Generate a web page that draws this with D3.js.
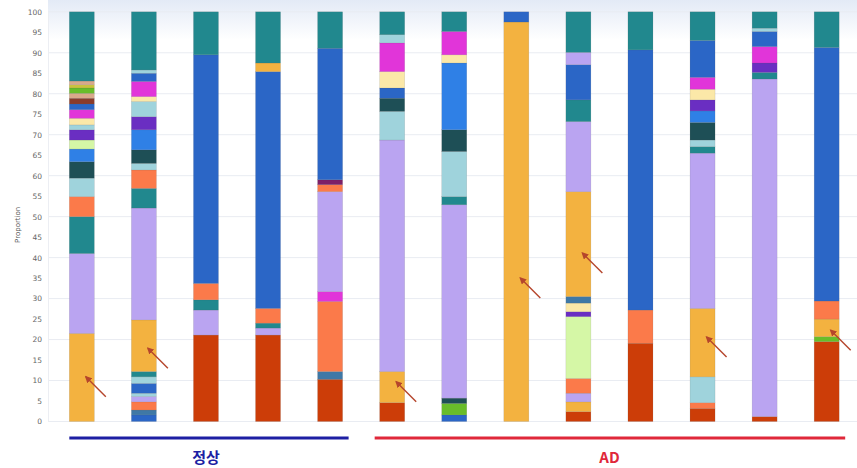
<!DOCTYPE html>
<html><head><meta charset="utf-8">
<script src="https://cdn.jsdelivr.net/npm/d3@7"></script>
<style>html,body{margin:0;padding:0;background:#fff;}svg{display:block;}</style>
</head><body>
<svg id="c" width="857" height="468"></svg>
<script>
// ---- data ----
const samples = ["N1","N2","N3","N4","N5","AD1","AD2","AD3","AD4","AD5","AD6","AD7","AD8"];
const groups = [{name:"정상", members:["N1","N2","N3","N4","N5"]},{name:"AD", members:["AD1","AD2","AD3","AD4","AD5","AD6","AD7","AD8"]}];
const yTicks = [0,5,10,15,20,25,30,35,40,45,50,55,60,65,70,75,80,85,90,95,100];
const taxa = ["teal","lavender","orange","darkred","coral","blue","brightblue","lightcyan","darkteal","purple","magenta","paleyellow","lightgreen","green","brown","slate","tan","olive","plum"];
// composition of each sample, bottom to top: [taxon, proportion %]
const compN1 = [["orange",21.5],["lavender",19.5],["teal",9.0],["coral",4.9],["lightcyan",4.5],["darkteal",4.0],["brightblue",3.1],["lightgreen",2.2],["purple",2.5],["lightcyan",1.2],["paleyellow",1.6],["magenta",2.1],["blue",1.4],["brown",1.4],["tan",1.2],["green",1.3],["olive",0.8],["tan",0.9],["teal",16.9]];
const compN2 = [["blue",1.6],["slate",1.2],["coral",2.0],["lavender",1.3],["lightcyan",0.8],["blue",2.4],["lightcyan",1.6],["teal",1.3],["orange",12.6],["lavender",27.3],["teal",4.8],["coral",4.5],["lightcyan",1.6],["darkteal",3.3],["brightblue",4.9],["purple",3.2],["lightcyan",3.7],["paleyellow",1.2],["magenta",3.7],["blue",2.0],["lightcyan",0.8],["teal",14.2]];
const compN3 = [["darkred",21.1],["lavender",6.1],["teal",2.5],["coral",4.0],["blue",55.8],["teal",10.5]];
const compN4 = [["darkred",21.1],["lavender",1.7],["teal",1.2],["coral",3.6],["blue",57.8],["orange",2.1],["teal",12.5]];
const compN5 = [["darkred",10.3],["slate",1.9],["coral",17.1],["magenta",2.4],["lavender",24.4],["coral",1.7],["plum",1.2],["blue",32.1],["teal",8.9]];
const compAD1 = [["darkred",4.6],["orange",7.6],["lavender",56.5],["lightcyan",7.0],["darkteal",3.2],["blue",2.5],["paleyellow",4.0],["magenta",7.0],["lightcyan",2.0],["teal",5.6]];
const compAD2 = [["blue",1.6],["green",2.8],["darkteal",1.3],["lavender",47.2],["teal",2.0],["lightcyan",11.0],["darkteal",5.3],["brightblue",16.3],["paleyellow",2.0],["magenta",5.7],["teal",4.8]];
const compAD3 = [["orange",97.5],["blue",2.5]];
const compAD4 = [["darkred",2.4],["orange",2.4],["lavender",2.1],["coral",3.6],["lightgreen",15.1],["purple",1.2],["paleyellow",2.1],["slate",1.6],["orange",25.6],["lavender",17.1],["teal",5.3],["blue",8.6],["lavender",3.0],["teal",9.9]];
const compAD5 = [["darkred",19.1],["coral",8.1],["blue",63.5],["teal",9.3]];
const compAD6 = [["darkred",3.2],["coral",1.4],["lightcyan",6.3],["orange",16.7],["lavender",37.9],["teal",1.6],["lightcyan",1.6],["darkteal",4.3],["brightblue",2.8],["purple",2.7],["paleyellow",2.6],["magenta",2.9],["blue",9.0],["teal",7.0]];
const compAD7 = [["darkred",1.2],["lavender",82.4],["teal",1.6],["purple",2.3],["magenta",4.0],["blue",3.7],["lightcyan",0.8],["teal",4.0]];
const compAD8 = [["darkred",19.5],["green",1.2],["orange",4.3],["coral",4.4],["blue",61.9],["teal",8.7]];
const compositions = [compN1,compN2,compN3,compN4,compN5,compAD1,compAD2,compAD3,compAD4,compAD5,compAD6,compAD7,compAD8];
// arrows marking a segment: [sample, proportion at arrow tip]
const arrows = [["N1",10.9],["N2",17.9],["AD1",9.7],["AD3",35.0],["AD4",41.1],["AD6",20.6],["AD8",22.3]];

// ---- styles ----
const colors = {teal:"#21888e",lavender:"#baa4f1",orange:"#f3b240",darkred:"#cc3d08",coral:"#fb7a4a",blue:"#2b66c6",brightblue:"#2f80e6",lightcyan:"#9fd3dc",darkteal:"#1e4f56",purple:"#6a2ec2",magenta:"#e135d9",paleyellow:"#fbe8a8",lightgreen:"#d5f7a6",green:"#68bd2a",brown:"#8a3b2b",slate:"#3f78a6",tan:"#d9a98a",olive:"#c9c23e",plum:"#7d2068"};
const color = d3.scaleOrdinal().domain(taxa).range(taxa.map(t=>colors[t]));

const svg = d3.select("#c");
const x = d3.scaleBand().domain(samples).range([51,857.5]).paddingInner(0.597).paddingOuter(0.295);
const y = d3.scaleLinear().domain([0,100]).range([421.5,11.8]);

// top tint
const defs = svg.append("defs");
const lg = defs.append("linearGradient").attr("id","tint").attr("x1",0).attr("y1",0).attr("x2",0).attr("y2",1);
lg.append("stop").attr("offset","0%").attr("stop-color","#e3eaf6");
lg.append("stop").attr("offset","100%").attr("stop-color","#ffffff");
svg.append("rect").attr("x",48).attr("y",0).attr("width",809).attr("height",40).attr("fill","url(#tint)");

// grid
svg.append("g").selectAll("line").data(yTicks.filter(v=>v%10===0)).join("line")
  .attr("x1",48).attr("x2",857).attr("y1",d=>y(d)).attr("y2",d=>y(d))
  .attr("stroke","#e9ecf2").attr("stroke-width",1);
svg.append("line").attr("x1",48.5).attr("x2",48.5).attr("y1",y(100)).attr("y2",y(0)).attr("stroke","#eceef3");

// y axis
const ya = svg.append("g").attr("transform","translate(48,0)")
  .call(d3.axisLeft(y).tickValues(yTicks).tickSize(0).tickPadding(6));
ya.select(".domain").remove();
ya.selectAll("text").attr("fill","#666").style("font-family","DejaVu Sans, sans-serif").style("font-size","7.5px");
svg.append("text").attr("transform",`translate(20,${y(48)}) rotate(-90)`).attr("text-anchor","middle")
  .attr("fill","#555").style("font-family","DejaVu Sans, sans-serif").style("font-size","7px").text("Proportion");

// bars
samples.forEach((s,i)=>{
  let acc = 0;
  const segs = compositions[i].map(([t,v])=>{const o={t,y0:acc,y1:acc+v}; acc+=v; return o;});
  svg.append("g").selectAll("rect").data(segs).join("rect")
    .attr("x",x(s)).attr("width",x.bandwidth())
    .attr("y",d=>y(d.y1)).attr("height",d=>y(d.y0)-y(d.y1))
    .attr("fill",d=>color(d.t)).attr("stroke","rgba(90,90,90,0.25)").attr("stroke-width",0.5);
});

// arrows
defs.append("marker").attr("id","ah").attr("viewBox","0 0 10 10").attr("refX",8).attr("refY",5)
  .attr("markerWidth",5).attr("markerHeight",5).attr("orient","auto")
  .append("path").attr("d","M0,0L10,5L0,10z").attr("fill","#b5452c");
svg.append("g").selectAll("line").data(arrows).join("line")
  .attr("x1",d=>x(d[0])+x.bandwidth()/2+24).attr("y1",d=>y(d[1])+20)
  .attr("x2",d=>x(d[0])+x.bandwidth()/2+4).attr("y2",d=>y(d[1]))
  .attr("stroke","#b5452c").attr("stroke-width",1.4).attr("marker-end","url(#ah)");

// group lines and labels
const gcol = {"정상":"#1d1fa3","AD":"#e0283a"};
groups.forEach((g,gi)=>{
  const x0 = x(g.members[0]) - (gi===0?0:5);
  const x1 = x(g.members[g.members.length-1]) + x.bandwidth() + 6;
  svg.append("line").attr("x1",x0).attr("x2",x1).attr("y1",438).attr("y2",438)
    .attr("stroke",gcol[g.name]).attr("stroke-width",3);
  const cx = (x(g.members[0]) + x(g.members[g.members.length-1]) + x.bandwidth())/2;
  svg.append("text").attr("x",cx).attr("y",463).attr("text-anchor","middle")
    .attr("fill",gcol[g.name]).style("font-family","Noto Sans CJK KR, sans-serif")
    .style("font-size","15px").style("font-weight","bold").text(g.name);
});
</script>
</body></html>
